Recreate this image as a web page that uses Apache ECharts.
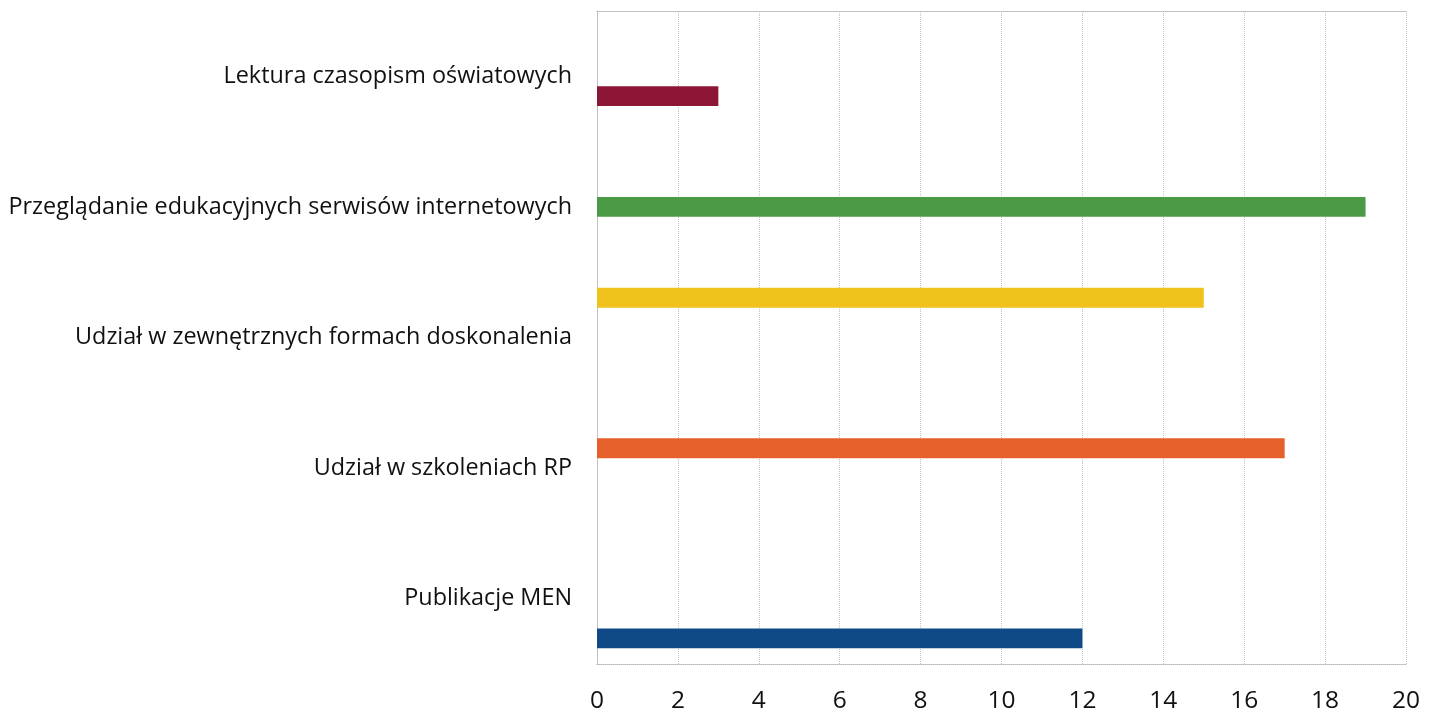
<!DOCTYPE html>
<html>
<head>
<meta charset="utf-8">
<script src="https://cdn.jsdelivr.net/npm/echarts@6/dist/echarts.min.js"></script>
<style>
html,body{margin:0;padding:0;background:#fff;}
#c{width:1439px;height:714px;}
</style>
</head>
<body>
<div id="c"></div>
<script>
// Categories, bottom to top (ECharts category y axis starts at the bottom)
const categories = [
  'Publikacje MEN',
  'Udział w szkoleniach RP',
  'Udział w zewnętrznych formach doskonalenia',
  'Przeglądanie edukacyjnych serwisów internetowych',
  'Lektura czasopism oświatowych'
];
// One series per topic; each bar sits in its own slot within the group (first series = top slot)
const seriesNames = [
  'Udział w zewnętrznych formach doskonalenia',
  'Udział w szkoleniach RP',
  'Przeglądanie edukacyjnych serwisów internetowych',
  'Lektura czasopism oświatowych',
  'Publikacje MEN'
];
const seriesValues = [15, 17, 19, 3, 12];
const seriesColors = ['#efc21c', '#e5602a', '#4b9a45', '#8c1535', '#0f4a87'];
const xTicks = [0, 2, 4, 6, 8, 10, 12, 14, 16, 18, 20];

const series = seriesNames.map((name, i) => {
  const catIdx = categories.indexOf(name);
  const data = categories.map((c, j) => j === catIdx ? seriesValues[i] : '-');
  return {
    name: name,
    type: 'bar',
    data: data,
    barGap: '0%',
    barCategoryGap: '24%',
    itemStyle: { color: seriesColors[i] },
    silent: true
  };
});

const chart = echarts.init(document.getElementById('c'));
const font = '"Open Sans", "Noto Sans", sans-serif';
chart.setOption({
  animation: false,
  backgroundColor: '#ffffff',
  grid: { left: 597, right: 33, top: 11, bottom: 47, containLabel: false },
  xAxis: [{
    type: 'value',
    min: xTicks[0],
    max: xTicks[xTicks.length - 1],
    interval: 2,
    axisLine: { show: true, lineStyle: { color: '#b5b5b5', type: 'dotted', width: 1 } },
    axisTick: { show: false },
    axisLabel: { color: '#111', fontSize: 24.5, fontFamily: font, margin: 25 },
    splitLine: { show: true, lineStyle: { color: '#c4c4c4', type: 'dotted', width: 1 } }
  }, {
    type: 'value',
    position: 'top',
    min: 0, max: 20,
    axisLine: { show: true, onZero: false, lineStyle: { color: '#b5b5b5', type: 'dotted', width: 1 } },
    axisTick: { show: false },
    axisLabel: { show: false },
    splitLine: { show: false }
  }],
  yAxis: {
    type: 'category',
    data: categories,
    axisLine: { show: true, lineStyle: { color: '#b5b5b5', type: 'dotted', width: 1 } },
    axisTick: { show: false },
    axisLabel: { color: '#111', fontSize: 23.4, fontFamily: font, margin: 25 },
    splitLine: { show: false }
  },
  series: series
});
</script>
</body>
</html>
